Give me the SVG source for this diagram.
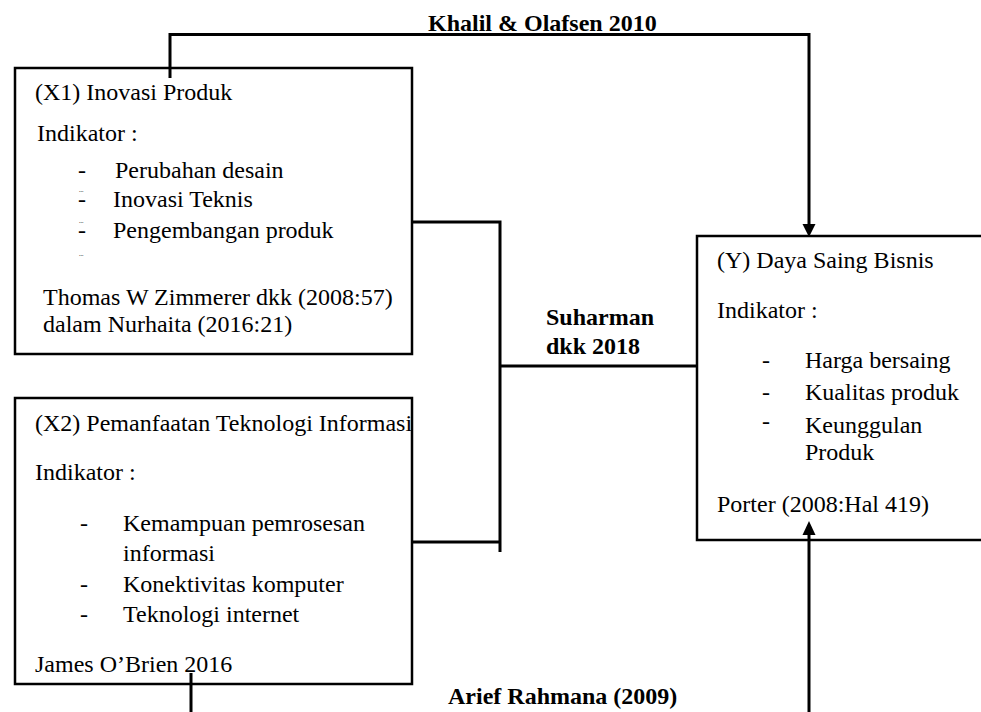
<svg xmlns="http://www.w3.org/2000/svg" width="981" height="712" viewBox="0 0 981 712">
<style>
.box{fill:#fff;stroke:#000;stroke-width:2.5}
.t{font-family:"Liberation Serif","Times New Roman",serif;font-size:24px;fill:#000}
.b{font-family:"Liberation Serif","Times New Roman",serif;font-size:24px;font-weight:bold;fill:#000}
.dots{font-size:6px}
.c{fill:none;stroke:#000;stroke-width:3}
.ah{fill:#000;stroke:none}
</style>
<rect width="981" height="712" fill="#fff"/>
<g id="x1">
<rect class="box" x="15" y="68" width="397" height="286"/>
<text class="t" x="35" y="100">(X1) Inovasi Produk</text>
<text class="t" x="37" y="141">Indikator :</text>
<text class="t" x="78" y="178">-</text>
<text class="t" x="115" y="178">Perubahan  desain</text>
<text class="t"><tspan class="dots" x="79" y="192">...</tspan><tspan x="78" y="207">-</tspan></text>
<text class="t" x="113" y="207">Inovasi Teknis</text>
<text class="t"><tspan class="dots" x="79" y="223">...</tspan><tspan x="78" y="238">-</tspan></text>
<text class="t" x="113" y="238">Pengembangan produk</text>
<text class="t"><tspan class="dots" x="79" y="256">...</tspan></text>
<text class="t" x="43" y="305">Thomas W Zimmerer dkk (2008:57)</text>
<text class="t" x="43" y="332">dalam Nurhaita (2016:21)</text>
</g>
<g id="x2">
<rect class="box" x="15" y="398" width="397" height="286"/>
<text class="t" x="35" y="431">(X2) Pemanfaatan Teknologi Informasi</text>
<text class="t" x="35" y="480">Indikator :</text>
<text class="t" x="80" y="531">-</text>
<text class="t" x="123" y="531">Kemampuan pemrosesan</text>
<text class="t" x="123" y="561">informasi</text>
<text class="t" x="80" y="592">-</text>
<text class="t" x="123" y="592">Konektivitas  komputer</text>
<text class="t" x="80" y="622">-</text>
<text class="t" x="123" y="622">Teknologi  internet</text>
<text class="t" x="35" y="672">James O’Brien 2016</text>
</g>
<g id="y">
<rect class="box" x="697" y="236" width="300" height="304"/>
<text class="t" x="717" y="268">(Y) Daya Saing Bisnis</text>
<text class="t" x="717" y="318">Indikator :</text>
<text class="t" x="762" y="368">-</text>
<text class="t" x="805" y="368">Harga bersaing</text>
<text class="t" x="762" y="400">-</text>
<text class="t" x="805" y="400">Kualitas  produk</text>
<text class="t" x="762" y="429">-</text>
<text class="t" x="805" y="433">Keunggulan</text>
<text class="t" x="805" y="460">Produk</text>
<text class="t" x="717" y="512">Porter (2008:Hal 419)</text>
</g>
<g id="connectors">
<path class="c" d="M170,78 V34.5 H809 V226"/>
<polygon class="ah" points="802.5,224 815.5,224 809,237"/>
<path class="c" d="M412,222 H500 M500,220.5 V552 M500,366 H697 M412,542 H500"/>
<path class="c" d="M191,673 V712"/>
<path class="c" d="M809,712 V533"/>
<polygon class="ah" points="802.5,535 815.5,535 809,521"/>
</g>
<g id="labels">
<text class="b" x="428" y="31">Khalil &amp; Olafsen 2010</text>
<text class="b" x="546" y="325">Suharman</text>
<text class="b" x="546" y="354">dkk 2018</text>
<text class="b" x="448" y="704">Arief Rahmana (2009)</text>
</g>
</svg>
